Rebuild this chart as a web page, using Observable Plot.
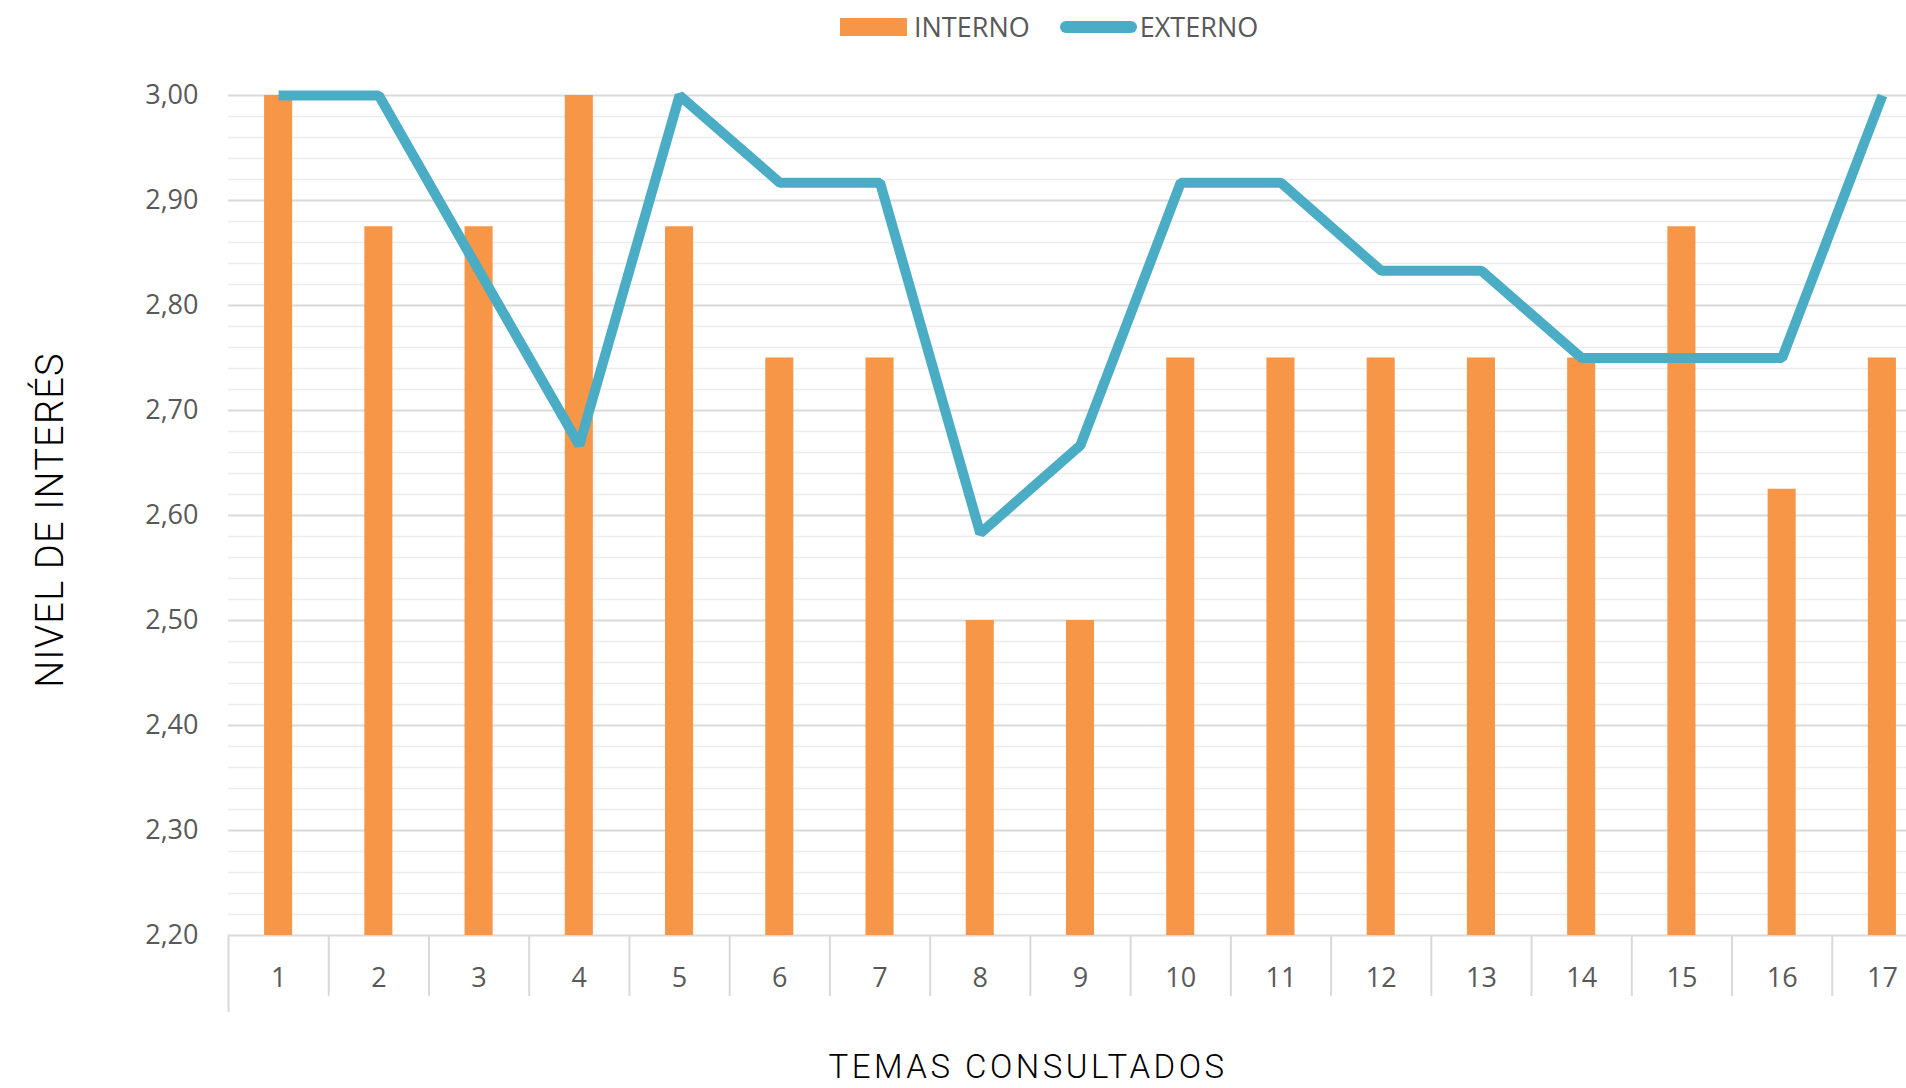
<!DOCTYPE html>
<html>
<head>
<meta charset="utf-8">
<script src="https://cdn.jsdelivr.net/npm/d3@7"></script>
<script src="https://cdn.jsdelivr.net/npm/@observablehq/plot@0.6"></script>
<style>
  html, body { margin: 0; padding: 0; background: #fff; overflow: hidden; width: 1906px; height: 1088px; }
  #wrap { position: relative; width: 1906px; height: 1088px; }
  #legend { height: 55px; display: flex; align-items: center; padding-left: 840px; box-sizing: border-box;
            font-family: "Open Sans", sans-serif; font-size: 27px; color: #595959; padding-bottom: 2px; }
  .sw-bar { width: 67px; height: 18px; background: #F79646; margin-right: 7px; }
  .sw-line { width: 77px; height: 12px; border-radius: 6px; background: #4BACC6; margin-left: 30px; margin-right: 3px; }
  #ytitle { position: absolute; left: 50px; top: 520px; transform: translate(-50%, -50%) rotate(-90deg);
            font-family: Roboto, sans-serif; font-weight: 300; font-size: 38px; color: #000; white-space: nowrap; letter-spacing: 1.2px; }
  #xtitle { height: 48px; text-align: center; padding-left: 150px; box-sizing: border-box; line-height: 54px;
            font-family: Roboto, sans-serif; font-weight: 300; font-size: 33px; color: #000; white-space: nowrap; letter-spacing: 3.5px; }
  svg { overflow: hidden; }
</style>
</head>
<body>
<div id="wrap">
  <div id="legend"><div class="sw-bar"></div><span>INTERNO</span><div class="sw-line"></div><span>EXTERNO</span></div>
  <div id="chart"></div>
  <div id="xtitle">TEMAS CONSULTADOS</div>
  <div id="ytitle">NIVEL DE INTERÉS</div>
</div>
<script>
// ---- data ----
const temas = ["1","2","3","4","5","6","7","8","9","10","11","12","13","14","15","16","17"];
const interno = [3.00, 2.875, 2.875, 3.00, 2.875, 2.75, 2.75, 2.50, 2.50, 2.75, 2.75, 2.75, 2.75, 2.75, 2.875, 2.625, 2.75];
const externo = [3.00, 3.00, 2.833, 2.667, 3.00, 2.917, 2.917, 2.583, 2.667, 2.917, 2.917, 2.833, 2.833, 2.75, 2.75, 2.75, 3.00];
const yMajorTicks = [2.20, 2.30, 2.40, 2.50, 2.60, 2.70, 2.80, 2.90, 3.00];
const yMinorTicks = [2.22, 2.24, 2.26, 2.28, 2.32, 2.34, 2.36, 2.38, 2.42, 2.44, 2.46, 2.48,
                     2.52, 2.54, 2.56, 2.58, 2.62, 2.64, 2.66, 2.68, 2.72, 2.74, 2.76, 2.78,
                     2.82, 2.84, 2.86, 2.88, 2.92, 2.94, 2.96, 2.98];
const yDomain = [2.20, 3.00];

const data = temas.map((t, i) => ({tema: t, interno: interno[i], externo: externo[i]}));

// ---- layout ----
const W = 1906, H = 985;
const mLeft = 228, mTop = 40, mBottom = 105;
const xRange = [mLeft, 1932];           // chart continues past the right edge (cropped as in the reference)
const step = (xRange[1] - xRange[0]) / temas.length;
const plotH = H - mTop - mBottom;
const fmt = d => d.toFixed(2).replace(".", ",");

const chart = Plot.plot({
  width: W,
  height: H,
  marginLeft: mLeft,
  marginRight: 0,
  marginTop: mTop,
  marginBottom: mBottom,
  style: {fontFamily: "'Open Sans', sans-serif", fontSize: "27px", color: "#595959", background: "#fff"},
  x: {type: "band", domain: temas, range: xRange, padding: 0.72, paddingOuter: 0.36, align: 0.5, round: false},
  y: {domain: yDomain},
  marks: [
    Plot.ruleY(yMinorTicks, {stroke: "#ececec", strokeWidth: 1.5}),
    Plot.ruleY(yMajorTicks, {stroke: "#d9d9d9", strokeWidth: 2}),
    // category separators below the axis line
    Plot.ruleX(temas.slice(1), {x: d => d, dx: -step / 2, stroke: "#d9d9d9", strokeWidth: 2, insetTop: plotH, insetBottom: -61}),
    Plot.ruleX(temas.slice(0, 1), {x: d => d, dx: -step / 2, stroke: "#d9d9d9", strokeWidth: 2, insetTop: plotH, insetBottom: -77}),
    Plot.barY(data, {x: "tema", y1: yDomain[0], y2: "interno", fill: "#F79646"}),
    Plot.lineY(data, {x: "tema", y: "externo", stroke: "#4BACC6", strokeWidth: 10, strokeLinejoin: "miter", strokeLinecap: "butt"}),
    Plot.axisY({ticks: yMajorTicks, tickSize: 0, tickPadding: 30, tickFormat: fmt, label: null}),
    Plot.axisX({tickSize: 0, tickPadding: 32, label: null})
  ]
});
document.getElementById("chart").appendChild(chart);
</script>
</body>
</html>
